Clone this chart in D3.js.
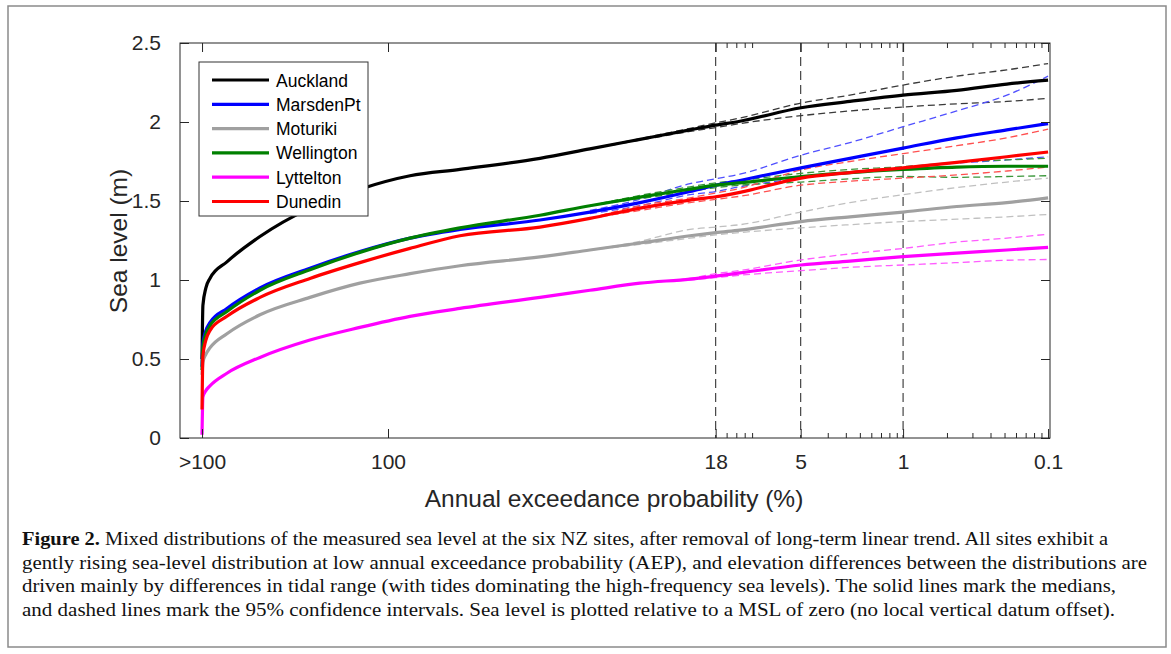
<!DOCTYPE html>
<html><head><meta charset="utf-8">
<script src="https://cdn.jsdelivr.net/npm/d3@7"></script>
<style>body{margin:0;background:#fff;} svg{display:block;}</style>
</head><body><svg id="c" width="1171" height="654"></svg>
<script>
// ---- data ----
const sites = ["Auckland", "MarsdenPt", "Moturiki", "Wellington", "Lyttelton", "Dunedin"];
const siteColors = ["#000000", "#0000ff", "#a0a0a0", "#008000", "#ff00ff", "#ff0000"];
const ciColors = ["#3a3a3a", "#5050ff", "#c0c0c0", "#3a963a", "#ff5cff", "#ff5050"];

// return period (years) on a log axis; labels show AEP (%)
const returnPeriod = [0.00142, 0.00144, 0.00151, 0.00161, 0.00211, 0.00357, 0.00791, 0.0175, 0.0389, 0.0861,
  0.308, 0.681, 1.51, 3.35, 5.04, 7.41, 19.6, 42.7, 99.5, 234, 519, 1000];
const auckland   = [0.50, 0.84, 0.95, 1.01, 1.115, 1.275, 1.455, 1.575, 1.66, 1.70, 1.77, 1.83, 1.89, 1.95, 1.98, 2.005, 2.09, 2.13, 2.17, 2.20, 2.24, 2.265];
const marsdenPt  = [0.45, 0.60, 0.68, 0.73, 0.82, 0.95, 1.075, 1.18, 1.265, 1.32, 1.38, 1.43, 1.49, 1.56, 1.60, 1.63, 1.71, 1.77, 1.835, 1.90, 1.95, 1.99];
const moturiki   = [0.40, 0.48, 0.53, 0.57, 0.66, 0.78, 0.89, 0.98, 1.04, 1.09, 1.146, 1.19, 1.234, 1.28, 1.30, 1.316, 1.37, 1.40, 1.43, 1.465, 1.49, 1.52];
const wellington = [0.43, 0.58, 0.66, 0.71, 0.80, 0.935, 1.065, 1.175, 1.265, 1.33, 1.41, 1.47, 1.525, 1.575, 1.60, 1.615, 1.655, 1.68, 1.70, 1.715, 1.72, 1.72];
const lyttelton  = [0.02, 0.26, 0.30, 0.33, 0.41, 0.51, 0.62, 0.70, 0.77, 0.82, 0.89, 0.935, 0.98, 1.006, 1.025, 1.045, 1.095, 1.12, 1.148, 1.17, 1.19, 1.207];
const dunedin    = [0.18, 0.52, 0.62, 0.68, 0.77, 0.89, 1.01, 1.11, 1.20, 1.28, 1.335, 1.39, 1.455, 1.506, 1.527, 1.555, 1.645, 1.68, 1.71, 1.745, 1.78, 1.81];

// 95% confidence intervals
const ciReturnPeriod = [0.681, 1.51, 3.35, 5.04, 7.41, 19.6, 42.7, 99.5, 234, 519, 1000];
const aucklandUpper   = [1.83, 1.895, 1.96, 1.995, 2.025, 2.12, 2.17, 2.234, 2.29, 2.33, 2.37];
const aucklandLower   = [1.83, 1.885, 1.94, 1.965, 1.99, 2.04, 2.07, 2.095, 2.115, 2.13, 2.15];
const marsdenPtUpper  = [1.44, 1.51, 1.61, 1.64, 1.67, 1.79, 1.87, 1.97, 2.07, 2.17, 2.29];
const marsdenPtLower  = [1.42, 1.47, 1.54, 1.56, 1.59, 1.645, 1.68, 1.715, 1.74, 1.76, 1.78];
const moturikiUpper   = [1.19, 1.245, 1.32, 1.335, 1.35, 1.43, 1.49, 1.54, 1.585, 1.62, 1.645];
const moturikiLower   = [1.19, 1.225, 1.265, 1.285, 1.30, 1.33, 1.35, 1.37, 1.385, 1.40, 1.415];
const wellingtonUpper = [1.47, 1.535, 1.59, 1.615, 1.63, 1.675, 1.70, 1.717, 1.745, 1.76, 1.77];
const wellingtonLower = [1.47, 1.515, 1.56, 1.585, 1.60, 1.62, 1.64, 1.655, 1.65, 1.655, 1.66];
const lytteltonUpper  = [0.935, 0.98, 1.01, 1.04, 1.06, 1.127, 1.165, 1.20, 1.24, 1.265, 1.29];
const lytteltonLower  = [0.935, 0.98, 1.00, 1.015, 1.03, 1.059, 1.08, 1.095, 1.11, 1.125, 1.13];
const dunedinUpper    = [1.39, 1.47, 1.52, 1.55, 1.58, 1.696, 1.75, 1.80, 1.85, 1.90, 1.955];
const dunedinLower    = [1.39, 1.44, 1.49, 1.51, 1.53, 1.60, 1.625, 1.645, 1.665, 1.69, 1.715];

const xTickValues = [0.00142, 0.0274, 5.04, 19.5, 99.5, 999.5];
const xTickLabels = [">100", "100", "18", "5", "1", "0.1"];
const xMinorTicks = [6, 7, 8, 9, 30, 40, 50, 60, 70, 80, 90, 200, 300, 400, 500, 600, 700, 800, 900];
const guideLines = [5.04, 19.5, 99.5];
const yTickValues = [0, 0.5, 1, 1.5, 2, 2.5];
const yTickLabels = ["0", "0.5", "1", "1.5", "2", "2.5"];

const captionLines = [
  ["Figure 2.", " Mixed distributions of the measured sea level at the six NZ sites, after removal of long-term linear trend. All sites exhibit a"],
  ["", "gently rising sea-level distribution at low annual exceedance probability (AEP), and elevation differences between the distributions are"],
  ["", "driven mainly by differences in tidal range (with tides dominating the high-frequency sea levels). The solid lines mark the medians,"],
  ["", "and dashed lines mark the 95% confidence intervals. Sea level is plotted relative to a MSL of zero (no local vertical datum offset)."]
];

// ---- drawing ----
const medians = [auckland, marsdenPt, moturiki, wellington, lyttelton, dunedin];
const uppers = [aucklandUpper, marsdenPtUpper, moturikiUpper, wellingtonUpper, lytteltonUpper, dunedinUpper];
const lowers = [aucklandLower, marsdenPtLower, moturikiLower, wellingtonLower, lytteltonLower, dunedinLower];

const svg = d3.select("#c");
const L = 180, R = 1050, T = 43, B = 438;
const x = d3.scaleLog().domain([0.001, 1031]).range([L, R]);
const y = d3.scaleLinear().domain([0, 2.5]).range([B, T]);
const axisCol = "#262626";
const font = "'Liberation Sans', Arial, sans-serif";

// outer figure border
svg.append("rect").attr("x", 8).attr("y", 6).attr("width", 1158).attr("height", 641)
  .attr("fill", "none").attr("stroke", "#8a8a8a").attr("stroke-width", 1.5);

// guide lines
svg.append("g").selectAll("line").data(guideLines).join("line")
  .attr("x1", d => x(d)).attr("x2", d => x(d)).attr("y1", T).attr("y2", B)
  .attr("stroke", "#333").attr("stroke-width", 1.1).attr("stroke-dasharray", "9,5");

const line = d3.line().x(d => x(d[0])).y(d => y(d[1])).curve(d3.curveMonotoneX);

// CIs
const ciG = svg.append("g");
sites.forEach((s, i) => {
  [uppers[i], lowers[i]].forEach(arr => {
    ciG.append("path").datum(ciReturnPeriod.map((t, k) => [t, arr[k]]))
      .attr("d", line).attr("fill", "none").attr("stroke", ciColors[i])
      .attr("stroke-width", 1.3).attr("stroke-dasharray", "7,4");
  });
});
// medians
const mG = svg.append("g");
sites.forEach((s, i) => {
  mG.append("path").datum(returnPeriod.map((t, k) => [t, medians[i][k]]))
    .attr("d", line).attr("fill", "none").attr("stroke", siteColors[i])
    .attr("stroke-width", 3.2).attr("stroke-linejoin", "round");
});

// axes box
svg.append("rect").attr("x", L).attr("y", T).attr("width", R - L).attr("height", B - T)
  .attr("fill", "none").attr("stroke", axisCol).attr("stroke-width", 1);

// x axis ticks (bottom & top, inward)
const xAxisB = d3.axisBottom(x).tickValues(xTickValues).tickSize(-9).tickFormat((d, i) => xTickLabels[i]).tickPadding(16);
const gxb = svg.append("g").attr("transform", `translate(0,${B})`).call(xAxisB);
gxb.select(".domain").remove();
gxb.selectAll("line").attr("stroke", axisCol);
gxb.selectAll("text").attr("font-family", font).attr("font-size", 21).attr("fill", "#262626");
const gxt = svg.append("g").attr("transform", `translate(0,${T})`).call(d3.axisTop(x).tickValues(xTickValues).tickSize(-9).tickFormat(""));
gxt.select(".domain").remove(); gxt.selectAll("line").attr("stroke", axisCol);
const gmb = svg.append("g").attr("transform", `translate(0,${B})`).call(d3.axisBottom(x).tickValues(xMinorTicks).tickSize(-5).tickFormat(""));
gmb.select(".domain").remove(); gmb.selectAll("line").attr("stroke", axisCol);
const gmt = svg.append("g").attr("transform", `translate(0,${T})`).call(d3.axisTop(x).tickValues(xMinorTicks).tickSize(-5).tickFormat(""));
gmt.select(".domain").remove(); gmt.selectAll("line").attr("stroke", axisCol);

// y axis
const gyl = svg.append("g").attr("transform", `translate(${L},0)`)
  .call(d3.axisLeft(y).tickValues(yTickValues).tickSize(-9).tickPadding(19).tickFormat((d, i) => yTickLabels[i]));
gyl.select(".domain").remove(); gyl.selectAll("line").attr("stroke", axisCol);
gyl.selectAll("text").attr("font-family", font).attr("font-size", 21).attr("fill", "#262626");
const gyr = svg.append("g").attr("transform", `translate(${R},0)`)
  .call(d3.axisRight(y).tickValues(yTickValues).tickSize(-9).tickFormat(""));
gyr.select(".domain").remove(); gyr.selectAll("line").attr("stroke", axisCol);

// axis titles
svg.append("text").attr("x", 614).attr("y", 507).attr("text-anchor", "middle")
  .attr("font-family", font).attr("font-size", 24.5).attr("fill", "#262626")
  .text("Annual exceedance probability (%)");
svg.append("text").attr("transform", "translate(127,241) rotate(-90)").attr("text-anchor", "middle")
  .attr("font-family", font).attr("font-size", 24.5).attr("fill", "#262626")
  .text("Sea level (m)");

// legend
const lg = svg.append("g");
lg.append("rect").attr("x", 199).attr("y", 62).attr("width", 169).attr("height", 154)
  .attr("fill", "#fff").attr("stroke", "#333").attr("stroke-width", 1);
sites.forEach((s, i) => {
  const cy = 80 + i * 24.3;
  lg.append("line").attr("x1", 212).attr("x2", 269).attr("y1", cy).attr("y2", cy)
    .attr("stroke", siteColors[i]).attr("stroke-width", 3.2);
  lg.append("text").attr("x", 276).attr("y", cy + 6.5).attr("font-family", font)
    .attr("font-size", 17.5).attr("fill", "#000").text(s);
});

// caption
const capWidths = [1086, 1125, 1094, 1093];
captionLines.forEach((ln, i) => {
  const t = svg.append("text").attr("x", 22).attr("y", 545 + i * 23.5)
    .attr("font-family", "'Liberation Serif', 'DejaVu Serif', serif").attr("font-size", 18.5).attr("fill", "#111")
    .attr("textLength", capWidths[i]).attr("lengthAdjust", "spacingAndGlyphs");
  if (ln[0]) t.append("tspan").attr("font-weight", "bold").text(ln[0]);
  t.append("tspan").text(ln[1]);
});
</script></body></html>
